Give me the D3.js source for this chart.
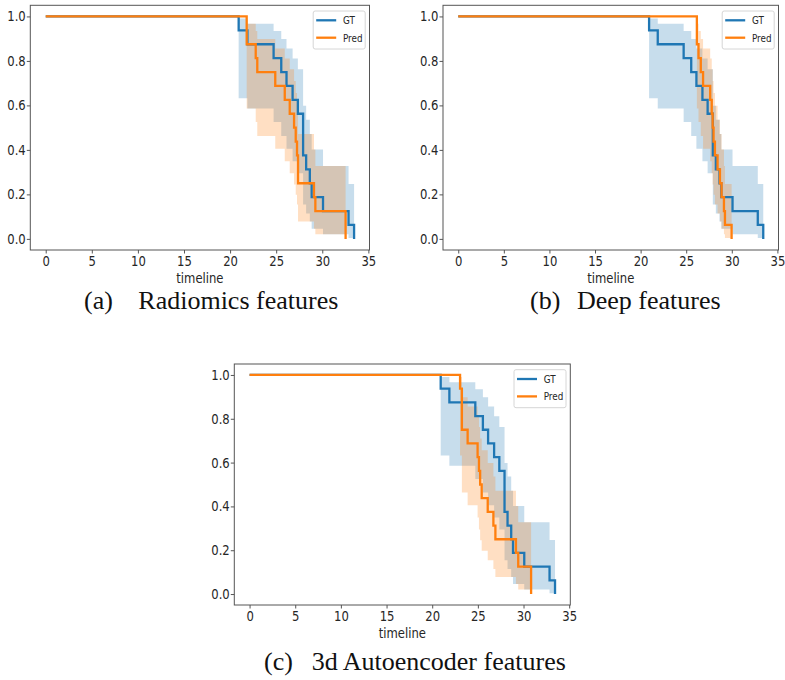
<!DOCTYPE html>
<html>
<head>
<meta charset="utf-8">
<script src="https://cdn.jsdelivr.net/npm/d3@7"></script>
<style>
  body { margin: 0; background: #fff; }
  svg { display: block; }
  .tick text, .axis-label, .legend text { font-family: 'DejaVu Sans', sans-serif; fill: #262626; }
  .caption { font-family: 'Liberation Serif', 'Times New Roman', serif; font-size: 26px; fill: #111; }
</style>
</head>
<body>
<svg id="chart" width="785" height="680"></svg>
<script>
const xTicks = [0, 5, 10, 15, 20, 25, 30, 35]
const yTicks = [0, 0.2, 0.4, 0.6, 0.8, 1.0]

// survival level -> 95% band (same band for the same level)
const levels  = [1, 0.9375, 0.875, 0.8125, 0.75, 0.6875, 0.625, 0.5625, 0.5, 0.4375, 0.375, 0.3125, 0.25, 0.1875, 0.125, 0.0625, 0]
const ciLower = [1, 0.632, 0.586, 0.525, 0.463, 0.405, 0.349, 0.295, 0.245, 0.198, 0.154, 0.114, 0.078, 0.046, 0.021, 0.004, 0]
const ciUpper = [1, 0.991, 0.967, 0.935, 0.898, 0.856, 0.811, 0.762, 0.710, 0.656, 0.598, 0.536, 0.472, 0.402, 0.328, 0.247, 0]

// GT curve, same in all three panels
const gtTimes = [0, 20.93, 21.88, 24.72, 25.55, 26.12, 26.78, 27.35, 27.92, 28.25, 28.65, 28.85, 30.08, 32.85, 33.45]
const gtSurv  = [1, 0.9375, 0.875, 0.8125, 0.75, 0.6875, 0.625, 0.5625, 0.375, 0.3125, 0.25, 0.1875, 0.125, 0.0625, 0]

// (a) radiomics
const predATimes = [0, 21.8, 22.78, 22.95, 24.9, 25.93, 26.47, 26.94, 27.12, 27.26, 27.37, 29.1, 29.25, 32.53]
const predASurv  = [1, 0.875, 0.8125, 0.75, 0.6875, 0.625, 0.5625, 0.5, 0.4375, 0.375, 0.25, 0.1875, 0.125, 0]
// (b) deep
const predBTimes = [0, 26.17, 26.35, 26.6, 26.85, 27.63, 27.8, 27.9, 28.0, 28.15, 28.44, 28.7, 28.88, 29.14, 29.25, 29.98]
const predBSurv  = [1, 0.875, 0.8125, 0.75, 0.6875, 0.625, 0.5625, 0.5, 0.4375, 0.375, 0.3125, 0.25, 0.1875, 0.125, 0.0625, 0]
// (c) 3d autoencoder
const predCTimes = [0, 23.05, 23.25, 23.88, 24.97, 25.12, 25.25, 25.42, 26.08, 26.7, 26.92, 29.17, 29.42, 30.83]
const predCSurv  = [1, 0.9375, 0.75, 0.6875, 0.625, 0.5625, 0.5, 0.4375, 0.375, 0.3125, 0.25, 0.1875, 0.125, 0]

const seriesNames = ['GT', 'Pred']
const colors = ['#1f77b4', '#ff7f0e']

const panels = [
  { tag: '(a)', title: 'Radiomics features', pred: [predATimes, predASurv],
    box: [30.3, 5.3, 369.5, 250], cap: [84, 138.3, 309] },
  { tag: '(b)', title: 'Deep features', pred: [predBTimes, predBSurv],
    box: [443, 5.3, 778.5, 250], cap: [530, 577, 308.5] },
  { tag: '(c)', title: '3d Autoencoder features', pred: [predCTimes, predCSurv],
    box: [234.3, 364, 570.3, 605], cap: [264, 311.7, 670] },
]

const squeeze = 0.83  // source figure was squashed horizontally

const svg = d3.select('#chart')

// matplotlib-like 5% margins around the data
const allTimes = [gtTimes, predATimes, predBTimes, predCTimes].flat()
const tMax = d3.max(allTimes), tMin = d3.min(allTimes)
const tPad = (tMax - tMin) * 0.05
const xDomain = [tMin - tPad, tMax + tPad]
const yDomain = [-0.05, 1.05]

const levelIndex = s => levels.indexOf(s)

panels.forEach(p => {
  const [x0, y0, x1, y1] = p.box
  const x = d3.scaleLinear().domain(xDomain).range([x0, x1])
  const y = d3.scaleLinear().domain(yDomain).range([y1, y0])

  const g = svg.append('g')

  const curves = [[gtTimes, gtSurv], p.pred]

  // bands first (zorder below lines)
  curves.forEach(([times, surv], i) => {
    const last = times.length - 1
    const pts = times.map((t, j) => {
      // the band stops at the last event, keeping the previous level
      const k = levelIndex(j === last ? surv[j - 1] : surv[j])
      return { t, lo: ciLower[k], hi: ciUpper[k] }
    })
    const area = d3.area()
      .curve(d3.curveStepAfter)
      .x(d => x(d.t))
      .y0(d => y(d.lo))
      .y1(d => y(d.hi))
    g.append('path')
      .attr('d', area(pts))
      .attr('fill', colors[i])
      .attr('fill-opacity', 0.25)
  })

  curves.forEach(([times, surv], i) => {
    const line = d3.line()
      .curve(d3.curveStepAfter)
      .x(d => x(d[0]))
      .y(d => y(d[1]))
    g.append('path')
      .attr('d', line(times.map((t, j) => [t, surv[j]])))
      .attr('fill', 'none')
      .attr('stroke', colors[i])
      .attr('stroke-width', 2.3)
  })

  // frame
  g.append('rect')
    .attr('x', x0).attr('y', y0)
    .attr('width', x1 - x0).attr('height', y1 - y0)
    .attr('fill', 'none')
    .attr('stroke', '#555')
    .attr('stroke-width', 1)

  const xAxis = g.append('g')
    .attr('transform', `translate(0,${y1})`)
    .call(d3.axisBottom(x).tickValues(xTicks).tickFormat(d3.format('d'))
      .tickSize(3.5).tickSizeOuter(0).tickPadding(3))
  const yAxis = g.append('g')
    .attr('transform', `translate(${x0},0)`)
    .call(d3.axisLeft(y).tickValues(yTicks).tickFormat(d3.format('.1f'))
      .tickSize(3.5).tickSizeOuter(0).tickPadding(2))

  ;[xAxis, yAxis].forEach(ax => {
    ax.select('.domain').remove()
    ax.selectAll('.tick line').attr('stroke', '#555')
    ax.selectAll('.tick text')
      .attr('font-size', 14)
      .attr('transform', `scale(${squeeze},1)`)
  })

  g.append('g')
    .attr('transform', `translate(${(x0 + x1) / 2},${y1 + 33}) scale(${squeeze},1)`)
    .append('text')
      .attr('class', 'axis-label')
      .attr('text-anchor', 'middle')
      .attr('font-size', 14)
      .text('timeline')

  // legend, upper right
  const lw = 52, lh = 38
  const lx = x1 - 4.3 - lw, ly = y0 + 5.7
  const legend = g.append('g').attr('class', 'legend')
    .attr('transform', `translate(${lx},${ly})`)
  legend.append('rect')
    .attr('width', lw).attr('height', lh)
    .attr('rx', 2)
    .attr('fill', '#fff').attr('fill-opacity', 0.8)
    .attr('stroke', '#d6d6d6')
  seriesNames.forEach((name, i) => {
    const ry = 9.3 + i * 17.4
    legend.append('line')
      .attr('x1', 3).attr('x2', 23)
      .attr('y1', ry).attr('y2', ry)
      .attr('stroke', colors[i])
      .attr('stroke-width', 2.3)
    legend.append('g')
      .attr('transform', `translate(29.7,${ry}) scale(0.8,1)`)
      .append('text')
        .attr('dy', '0.36em')
        .attr('font-size', 11)
        .text(name)
  })

  // caption under the panel
  svg.append('text').attr('class', 'caption')
    .attr('x', p.cap[0]).attr('y', p.cap[2]).text(p.tag)
  svg.append('text').attr('class', 'caption')
    .attr('x', p.cap[1]).attr('y', p.cap[2]).text(p.title)
})
</script>
</body>
</html>
